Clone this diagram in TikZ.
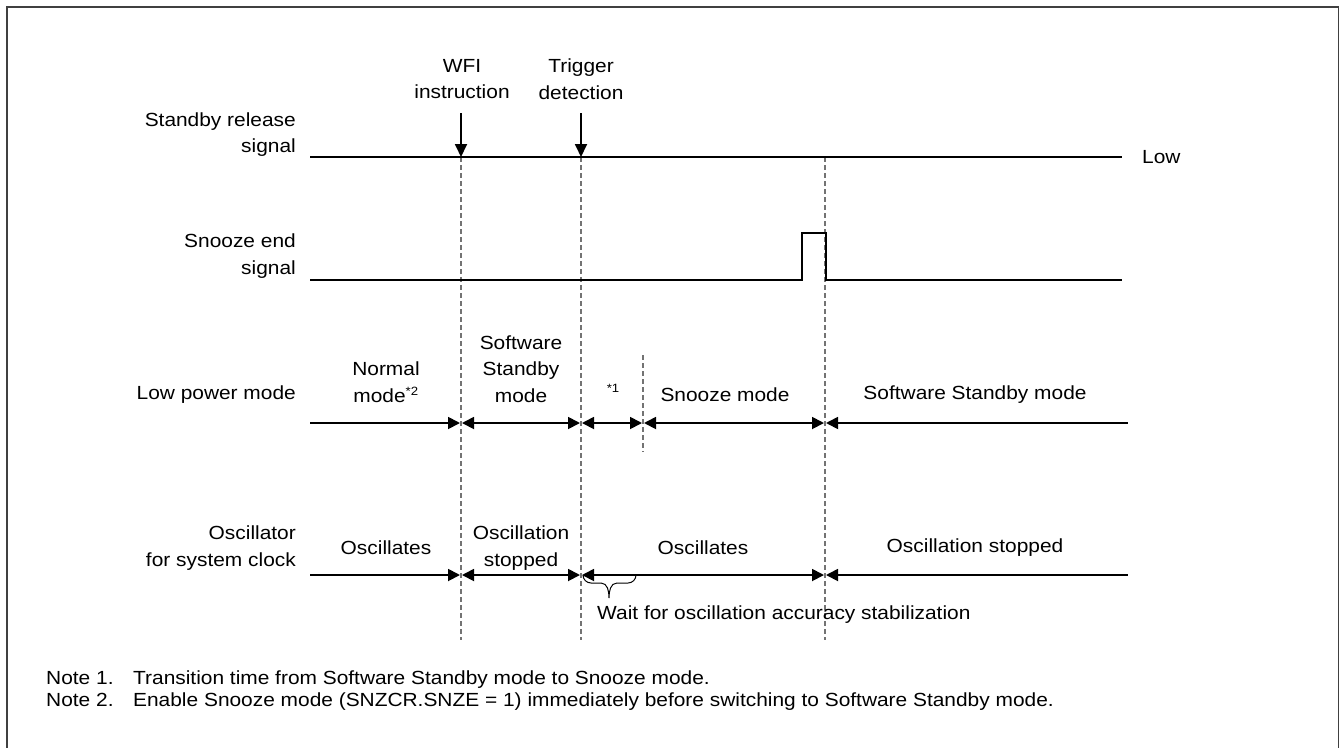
\documentclass[tikz,border=0pt]{standalone}
\usepackage{fontspec}
\setmainfont{Liberation Sans}[FakeStretch=1.1]
\usetikzlibrary{arrows.meta}
\begin{document}
\begin{tikzpicture}[x=1pt,y=-1pt,
  txt/.style={font=\fontsize{19}{26.5}\selectfont, inner sep=0pt, align=center},
  small/.style={font=\fontsize{12}{14}\selectfont, inner sep=0pt},
  sig/.style={line width=1.8pt, black},
  vdash/.style={line width=1.2pt, draw=black!55, dash pattern=on 5pt off 3pt},
  both/.style={line width=1.8pt, {Triangle[length=12pt,width=12pt]}-{Triangle[length=12pt,width=12pt]}, shorten <=1pt, shorten >=1pt},
  right/.style={line width=1.8pt, -{Triangle[length=12pt,width=12pt]}, shorten >=1pt},
  left/.style={line width=1.8pt, {Triangle[length=12pt,width=12pt]}-, shorten <=1pt},
  down/.style={line width=1.8pt, -{Triangle[length=13pt,width=12pt]}},
  frame/.style={line width=1.6pt, draw=black!75}
]
\useasboundingbox (0,0) rectangle (1340,747);
\draw[frame] (7,748) -- (7,7) -- (1338.5,7) -- (1338.5,748);

% time points
\coordinate (s0) at (310,157);
\coordinate (s1) at (461,157);
\coordinate (s2) at (581,157);
\coordinate (s3) at (825,157);
\coordinate (s4) at (1122,157);
\coordinate (d1) at (461,640);
\coordinate (d2) at (581,640);
\coordinate (d3) at (825,640);

% dashed lines
\draw[vdash] (s1) -- (d1);
\draw[vdash] (s2) -- (d2);
\draw[vdash] (s3) -- (d3);
\coordinate (e1) at (643,355);
\coordinate (e2) at (643,452);
\draw[vdash] (e1) -- (e2);

% row 1: standby release signal
\node[txt, anchor=east, align=right] (lab1) at (296,134.5) {Standby release\\signal};
\draw[sig] (s0) -- (s4);
\node[txt, anchor=west] (low) at (1142,157) {Low};
\node[txt] (wfi) at (462,79) {WFI\\instruction};
\node[txt] (trg) at (581,79) {Trigger\\detection};
\coordinate (a1) at (461,113);
\coordinate (a2) at (581,113);
\draw[down] (a1) -- (s1);
\draw[down] (a2) -- (s2);

% row 2: snooze end signal
\node[txt, anchor=east, align=right] (lab2) at (296,256) {Snooze end\\signal};
\coordinate (z0) at (310,280);
\coordinate (z1) at (802,280);
\coordinate (z2) at (802,233);
\coordinate (z3) at (826,233);
\coordinate (z4) at (826,280);
\coordinate (z5) at (1122,280);
\draw[sig, line join=miter] (z0) -- (z1) -- (z2) -- (z3) -- (z4) -- (z5);

% row 3: low power mode
\node[txt, anchor=east] (lab3) at (296,395) {Low power mode};
\coordinate (m0) at (310,423);
\coordinate (m1) at (461,423);
\coordinate (m2) at (581,423);
\coordinate (m3) at (643,423);
\coordinate (m4) at (825,423);
\coordinate (m5) at (1128,423);
\draw[right] (m0) -- (m1);
\draw[both] (m1) -- (m2);
\draw[both] (m2) -- (m3);
\draw[both] (m3) -- (m4);
\draw[left] (m4) -- (m5);
\node[txt] (nm) at (386,382) {Normal\\mode\textsuperscript{\fontsize{12}{14}\selectfont *2}};
\node[txt] (ssm) at (521,369) {Software\\Standby\\mode};
\node[small] (n1) at (613,388) {*1};
\node[txt] (snz) at (725,395) {Snooze mode};
\node[txt] (ssm2) at (975,395) {Software Standby mode};

% row 4: oscillator
\node[txt, anchor=east, align=right] (lab4) at (296,548) {Oscillator\\for system clock};
\coordinate (o0) at (310,575);
\coordinate (o1) at (461,575);
\coordinate (o2) at (581,575);
\coordinate (o3) at (825,575);
\coordinate (o4) at (1128,575);
\draw[right] (o0) -- (o1);
\draw[both] (o1) -- (o2);
\draw[both] (o2) -- (o3);
\draw[left] (o3) -- (o4);
\node[txt] (osc1) at (386,548) {Oscillates};
\node[txt] (ost1) at (521,548) {Oscillation\\stopped};
\node[txt] (osc2) at (703,548) {Oscillates};
\node[txt] (ost2) at (975,548) {Oscillation stopped};

% brace
\coordinate (b0) at (583,575);
\coordinate (b1) at (636,575);
\draw[line width=1pt] (b0) to[out=-90,in=180] (591,583) -- (601,583)
  to[out=0,in=90] (609,598) to[out=90,in=180] (617,583) -- (628,583)
  to[out=0,in=-90] (b1);
\node[txt, anchor=west] (wait) at (597,615) {Wait for oscillation accuracy stabilization};

% notes
\node[txt, anchor=west] (note1) at (46,680) {\makebox[87pt][l]{Note 1.}Transition time from Software Standby mode to Snooze mode.};
\node[txt, anchor=west] (note2) at (46,702) {\makebox[87pt][l]{Note 2.}Enable Snooze mode (SNZCR.SNZE = 1) immediately before switching to Software Standby mode.};
\end{tikzpicture}
\end{document}
